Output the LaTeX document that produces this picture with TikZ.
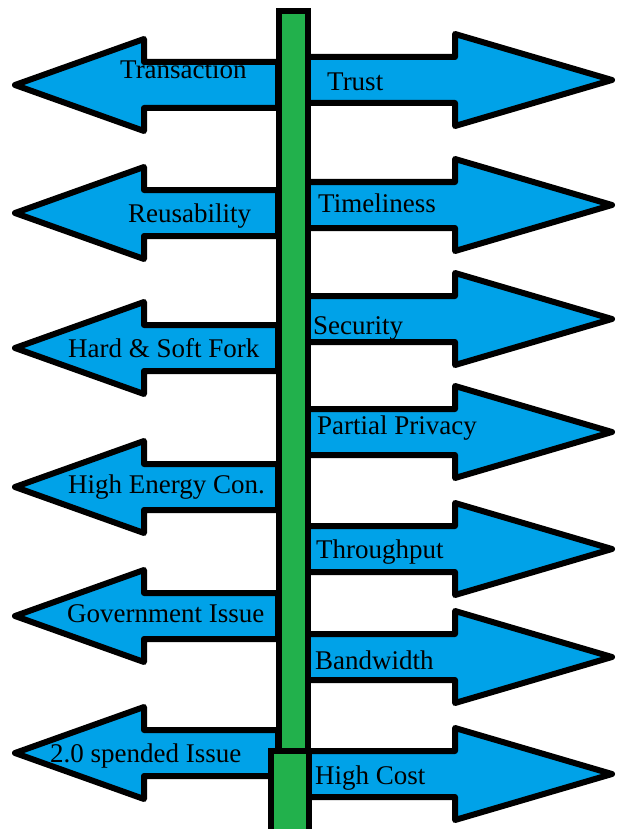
\documentclass[tikz,border=0pt]{standalone}
\usepackage{fontspec}
\setmainfont{Liberation Serif}
\definecolor{paintblue}{HTML}{00A2E8}
\definecolor{paintgreen}{HTML}{22B14C}
\tikzset{
  arrowbox/.style={draw=black, fill=paintblue, line width=6pt, line join=round},
  polebox/.style={draw=black, fill=paintgreen, line width=6pt},
  lbl/.style={font=\fontsize{27}{30}\selectfont, text=black, inner sep=0pt, anchor=base west}
}
\newcommand\larrowshape[1]{%
  \draw[arrowbox] (278,{#1-23}) -- (144,{#1-23}) -- (144,{#1-46}) -- (15,#1)
    -- (144,{#1+46}) -- (144,{#1+23}) -- (278,{#1+23}) -- cycle;}
\newcommand\rarrowshape[1]{%
  \draw[arrowbox] (306,{#1-23}) -- (455,{#1-23}) -- (455,{#1-46}) -- (612,#1)
    -- (455,{#1+46}) -- (455,{#1+23}) -- (306,{#1+23}) -- cycle;}
\begin{document}
\begin{tikzpicture}[x=1pt,y=-1pt]
\useasboundingbox (0,0) rectangle (618,829);
% left arrows
\larrowshape{85}
\larrowshape{213}
\larrowshape{348}
\larrowshape{487}
\larrowshape{616}
\larrowshape{753}
% right arrows
\rarrowshape{80}
\rarrowshape{205}
\rarrowshape{319}
\rarrowshape{432}
\rarrowshape{549}
\rarrowshape{657}
\rarrowshape{774}
% pole
\draw[polebox] (279,11) rectangle (308,752);
\draw[polebox] (271,751) rectangle (309,835);
% labels
\node[lbl] (l1) at (120,79) {Transaction};
\node[lbl] (l2) at (128,222) {Reusability};
\node[lbl] (l3) at (68,357) {Hard \& Soft Fork};
\node[lbl] (l4) at (68,493) {High Energy Con.};
\node[lbl] (l5) at (67,622) {Government Issue};
\node[lbl] (l6) at (50,762) {2.0 spended Issue};
\node[lbl] (r1) at (327,91) {Trust};
\node[lbl] (r2) at (318,212) {Timeliness};
\node[lbl] (r3) at (313,334) {Security};
\node[lbl] (r4) at (317,434) {Partial Privacy};
\node[lbl] (r5) at (316,558) {Throughput};
\node[lbl] (r6) at (315,669) {Bandwidth};
\node[lbl] (r7) at (315,784) {High Cost};
\end{tikzpicture}
\end{document}
